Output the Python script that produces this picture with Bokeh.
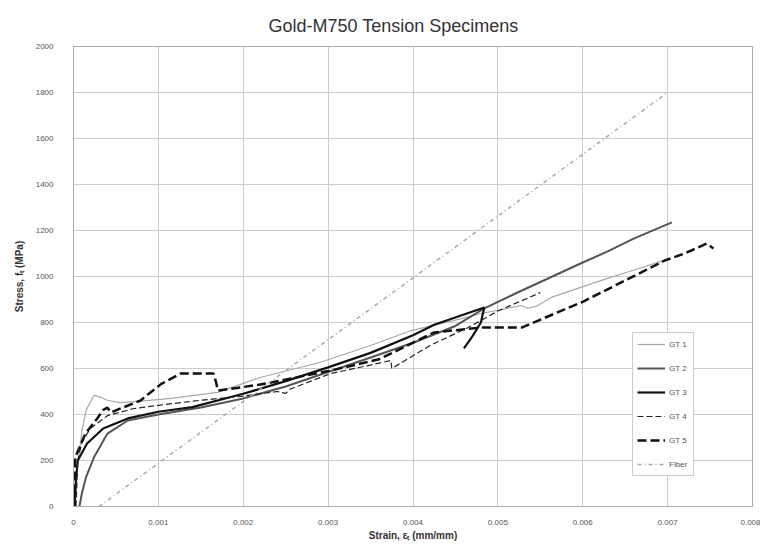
from bokeh.plotting import figure
from bokeh.models import FixedTicker, Legend, LegendItem
from bokeh.embed import file_html
from bokeh.resources import INLINE

# ---- data ----
gt1_strain = [0.00002, 0.00004, 0.0001, 0.00015, 0.00024, 0.0003, 0.0004, 0.00055, 0.0008, 0.00115,
              0.0017, 0.0022, 0.0029, 0.0035, 0.00398, 0.0045, 0.0048, 0.00528, 0.00535, 0.00545,
              0.00563, 0.00622, 0.00666, 0.00702]
gt1_stress = [0, 150, 330, 420, 483, 478, 462, 452, 458, 470,
              496, 561, 626, 700, 765, 810, 839, 874, 862, 870,
              909, 983, 1035, 1078]

gt2_strain = [0.00007, 0.0001, 0.00015, 0.00024, 0.0004, 0.00064, 0.001, 0.0015, 0.002, 0.0025,
              0.003, 0.0035, 0.004, 0.0045, 0.00484, 0.0052, 0.006, 0.0063, 0.0066, 0.00705]
gt2_stress = [0, 60, 130, 213, 317, 374, 400, 430, 470, 522,
              585, 648, 712, 785, 861, 925, 1061, 1110, 1165, 1235]

gt3_strain = [0.00001, 0.00003, 0.00005, 0.00016, 0.00035, 0.00064, 0.001, 0.0014, 0.002, 0.0025,
              0.003, 0.0035, 0.004, 0.00425, 0.0046, 0.00484, 0.0048, 0.0047, 0.0046]
gt3_stress = [0, 120, 200, 274, 339, 383, 412, 432, 490, 545,
              605, 668, 745, 790, 835, 865, 800, 740, 687]

gt4_strain = [0.00003, 0.00005, 0.0001, 0.0002, 0.0004, 0.0007, 0.001, 0.0015, 0.002, 0.0024,
              0.0025, 0.00255, 0.00303, 0.0035, 0.00374, 0.00375, 0.0042, 0.00465, 0.005, 0.0055]
gt4_stress = [0, 200, 280, 340, 395, 425, 440, 462, 480, 500,
              492, 510, 578, 615, 635, 600, 700, 778, 850, 930]

gt5_strain = [0.00001, 0.00002, 0.00014, 0.00028, 0.00035, 0.0004, 0.00044, 0.00079, 0.00103, 0.00126,
              0.00165, 0.00168, 0.0017, 0.0022, 0.00303, 0.0036, 0.00425, 0.0048, 0.00528, 0.006,
              0.00697, 0.0072, 0.00746, 0.00754]
gt5_stress = [0, 213, 317, 383, 420, 430, 409, 461, 532, 578,
              578, 540, 504, 530, 591, 640, 757, 778, 778, 890,
              1070, 1100, 1143, 1122]

fiber_strain = [0.0003, 0.007]
fiber_stress = [0, 1800]

x_ticks = [0, 0.001, 0.002, 0.003, 0.004, 0.005, 0.006, 0.007, 0.008]
x_tick_labels = ["0", "0.001", "0.002", "0.003", "0.004", "0.005", "0.006", "0.007", "0.008"]
y_ticks = [0, 200, 400, 600, 800, 1000, 1200, 1400, 1600, 1800, 2000]

series_names = ["GT 1", "GT 2", "GT 3", "GT 4", "GT 5", "Fiber"]

FONT = "Liberation Sans"

p = figure(width=760, height=548, output_backend="svg", toolbar_location=None,
           x_range=(0, 0.008), y_range=(0, 2000),
           min_border_left=73, min_border_right=8, min_border_top=46, min_border_bottom=42,
           title="Gold-M750 Tension Specimens")
p.title.align = "left"
p.title.text_font = FONT
p.title.text_font_size = "18px"
p.title.text_font_style = "normal"
p.title.text_color = "#333333"
p.title.offset = 195
p.title.standoff = 22

p.background_fill_color = "white"
p.border_fill_color = "white"
p.outline_line_color = "#aaaaaa"

p.xaxis.ticker = FixedTicker(ticks=x_ticks)
p.xaxis.major_label_overrides = {t: l for t, l in zip(x_ticks, x_tick_labels)}
p.yaxis.ticker = FixedTicker(ticks=y_ticks)

for ax in (p.xaxis[0], p.yaxis[0]):
    ax.axis_line_color = "#aaaaaa"
    ax.major_tick_line_color = None
    ax.minor_tick_line_color = None
    ax.major_label_text_font = FONT
    ax.major_label_text_font_size = "8px"
    ax.major_label_text_color = "#555555"
    ax.axis_label_text_font = FONT
    ax.axis_label_text_font_size = "10px"
    ax.axis_label_text_font_style = "bold"
    ax.axis_label_text_color = "#333333"

p.xaxis.axis_label = "Strain, \u03b5\u209c (mm/mm)"
p.yaxis.axis_label = "Stress, f\u209c (MPa)"
p.xaxis.major_label_standoff = 7
p.yaxis.major_label_standoff = 14
p.xaxis.axis_label_standoff = 2
p.yaxis.axis_label_standoff = 8

p.xgrid.grid_line_color = "#cccccc"
p.ygrid.grid_line_color = "#cccccc"
p.xgrid.ticker = FixedTicker(ticks=x_ticks)
p.ygrid.ticker = FixedTicker(ticks=y_ticks)

r1 = p.line(gt1_strain, gt1_stress, line_color="#a8a8a8", line_width=1.2)
r2 = p.line(gt2_strain, gt2_stress, line_color="#555555", line_width=2)
r3 = p.line(gt3_strain, gt3_stress, line_color="#111111", line_width=2.2)
r4 = p.line(gt4_strain, gt4_stress, line_color="#222222", line_width=1.2, line_dash="6 3")
r5 = p.line(gt5_strain, gt5_stress, line_color="#111111", line_width=2.5, line_dash="9 4")
r6 = p.line(fiber_strain, fiber_stress, line_color="#aaaaaa", line_width=1.5, line_dash="4 3 1 3")

items = [LegendItem(label=n, renderers=[r]) for n, r in zip(series_names, [r1, r2, r3, r4, r5, r6])]
legend = Legend(items=items, location=(559, 30))
legend.label_text_font = FONT
legend.label_text_font_size = "8px"
legend.label_text_color = "#555555"
legend.glyph_width = 28
legend.glyph_height = 14
legend.label_height = 14
legend.spacing = 10
legend.padding = 4
legend.margin = 0
legend.label_standoff = 4
legend.border_line_color = "#999999"
legend.background_fill_color = "white"
legend.background_fill_alpha = 1.0
p.add_layout(legend, "center")

open("out.html", "w").write(file_html(p, INLINE))
